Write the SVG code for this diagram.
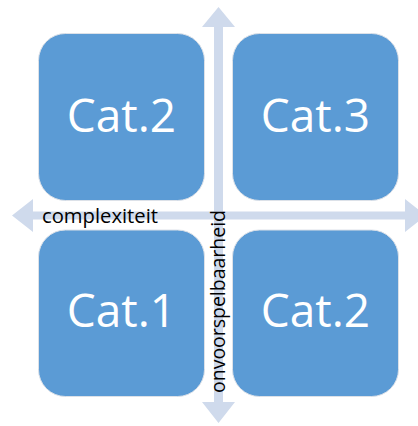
<svg xmlns="http://www.w3.org/2000/svg" width="418" height="426" viewBox="0 0 418 426">
<style>
.arrow{fill:#CFDAEC;stroke:none}
.box{fill:#5B9BD5;stroke:#DCE1E8;stroke-width:1}
.cat{font-family:"Open Sans","Liberation Sans",sans-serif;font-size:46px;fill:#FFFFFF;text-anchor:middle}
.axis{font-family:"Open Sans","Liberation Sans",sans-serif;font-size:20px;fill:#000000}
</style>
<rect width="418" height="426" fill="#FFFFFF"/>
<g id="connectors">
<polygon class="arrow" points="12,215.5 33,199 33,211.5 405,211.5 405,199 426,215.5 405,232 405,219.5 33,219.5 33,232"/>
<polygon class="arrow" points="218.5,7 235,27 223,27 223,402 235,402 218.5,423 202,402 214,402 214,27 202,27"/>
</g>
<g id="node-cat2-top">
<rect class="box" x="38.5" y="33.5" width="166" height="167" rx="27" ry="27"/>
<text class="cat" x="121.5" y="132">Cat.2</text>
</g>
<g id="node-cat3">
<rect class="box" x="232.5" y="33.5" width="166" height="167" rx="27" ry="27"/>
<text class="cat" x="315.5" y="132">Cat.3</text>
</g>
<g id="node-cat1">
<rect class="box" x="38.5" y="230" width="166" height="166.5" rx="27" ry="27"/>
<text class="cat" x="121.5" y="327">Cat.1</text>
</g>
<g id="node-cat2-bottom">
<rect class="box" x="232.5" y="230" width="166" height="166.5" rx="27" ry="27"/>
<text class="cat" x="315.5" y="327">Cat.2</text>
</g>
<g id="labels">
<text class="axis" x="42" y="223" textLength="116" lengthAdjust="spacingAndGlyphs">complexiteit</text>
<text class="axis" transform="translate(225,393) rotate(-90)" x="0" y="0" textLength="183" lengthAdjust="spacingAndGlyphs">onvoorspelbaarheid</text>
</g>
</svg>
